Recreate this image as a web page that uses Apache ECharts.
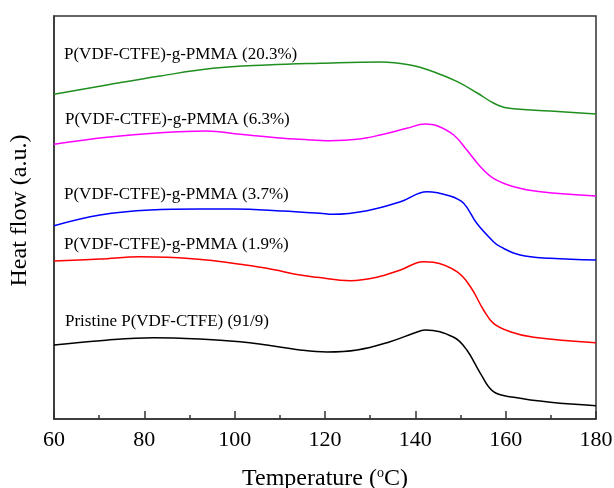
<!DOCTYPE html>
<html><head><meta charset="utf-8">
<script src="https://cdn.jsdelivr.net/npm/echarts@6/dist/echarts.min.js"></script>
<style>html,body{margin:0;padding:0;background:#fff}#c{width:614px;height:488px}</style>
</head><body><div id="c"></div>
<script>
const xTicks = [60, 80, 100, 120, 140, 160, 180];
const seriesNames = ['P(VDF-CTFE)-g-PMMA (20.3%)','P(VDF-CTFE)-g-PMMA (6.3%)','P(VDF-CTFE)-g-PMMA (3.7%)','P(VDF-CTFE)-g-PMMA (1.9%)','Pristine P(VDF-CTFE) (91/9)'];
const tGreen = [60,71.7,83.5,95.2,107.2,118.9,132.2,138.9,144,149.3,153.7,157.3,160.4,169.9,180];
const hGreen = [324.7,334,343,350.7,354,355.7,357,354,347.3,337.3,326,316,311,308,305];
const tMagenta = [60,71.7,83.5,93.8,101.2,110.7,114.5,121.1,127.1,132.2,138.1,142.2,144.8,148.5,151.4,154.4,157.3,161.8,167.7,180];
const hMagenta = [274.7,281.7,286.3,288,284.7,280.7,279.7,278.3,279.7,284,290.7,295,293.3,284,269,252.3,240.7,232.3,227.3,223];
const tBlue = [60,70.2,81.3,92.3,99.7,110.7,118.9,121.8,129.3,136.7,142.6,147.7,150.7,153.6,157.3,158.8,163.2,169.9,180];
const hBlue = [193.3,204,209,210,210,208,205.7,204.7,208.3,217.3,227.3,223,215.7,195.7,177.3,172.3,164,160.7,159];
const tRed = [60,70.2,79.1,85,93.8,101.2,107.1,114.5,118.2,125.6,131.5,136.7,141.8,144,149.2,152.2,155.1,157.3,161,166.2,180];
const hRed = [158,160,162.3,161.7,159,154.7,150.7,144,141.7,138.3,141.7,149,157.3,156.7,147.3,132.3,109,95.7,87.3,81.7,76.3];
const tBlack = [60,70.2,82,92.3,101.2,107.1,114.5,120.4,127.1,134.4,139.6,142.2,148.5,151.4,154.4,157.3,161.8,169.9,180];
const hBlack = [74,78.3,81.3,80,77.3,74,69,67,69,77.3,85.7,89,81.7,69,45.7,27.3,21.7,16.7,13.3];

const colors = ['#1f8f1f','#ff00ff','#0000ff','#ff0000','#000000'];
const temps = [tGreen,tMagenta,tBlue,tRed,tBlack];
const vals = [hGreen,hMagenta,hBlue,hRed,hBlack];
const labelPos = [[64,46],[65,111],[64,186],[64,236],[65,313]];
const F = '"Liberation Serif","Times New Roman",serif';

const chart = echarts.init(document.getElementById('c'), null, {renderer:'canvas'});
chart.setOption({
  animation:false,
  grid:{left:54,right:18,top:16,bottom:69,containLabel:false,outerBoundsMode:'none',show:true,borderColor:'#333',borderWidth:1.5,backgroundColor:'transparent'},
  xAxis:{type:'value',min:60,max:180,interval:20,
    axisLine:{show:true,lineStyle:{color:'#333',width:1.5}},
    axisTick:{show:true,inside:true,length:8,lineStyle:{color:'#333',width:1.5}},
    minorTick:{show:true,splitNumber:2,length:4,lineStyle:{color:'#333',width:1.5}},
    splitLine:{show:false},
    axisLabel:{fontFamily:F,fontSize:22,color:'#000',margin:10},
    name:'Temperature ({s|o}C)',nameLocation:'middle',nameGap:47,
    nameTextStyle:{fontFamily:F,fontSize:24,color:'#000',rich:{s:{fontFamily:F,fontSize:14,verticalAlign:'top',padding:[0,0,12,0],color:'#000'}}}
  },
  yAxis:{type:'value',min:0,max:403,
    axisLine:{show:true,lineStyle:{color:'#333',width:1.5}},
    axisTick:{show:false},axisLabel:{show:false},splitLine:{show:false},
    name:'Heat flow (a.u.)',nameLocation:'middle',nameGap:22,
    nameTextStyle:{fontFamily:F,fontSize:24,color:'#000',padding:[0,0,0,14]}
  },
  series: vals.map((v,i)=>({
    type:'line',name:seriesNames[i],smooth:0.4,showSymbol:false,
    data: v.map((y,j)=>[temps[i][j],y]),
    lineStyle:{color:colors[i],width:1.5},itemStyle:{color:colors[i]}
  })),
  graphic: seriesNames.map((n,i)=>({type:'text',left:labelPos[i][0],top:labelPos[i][1],
    style:{text:n,font:'17px '+F,fill:'#000'}}))
});
</script></body></html>
